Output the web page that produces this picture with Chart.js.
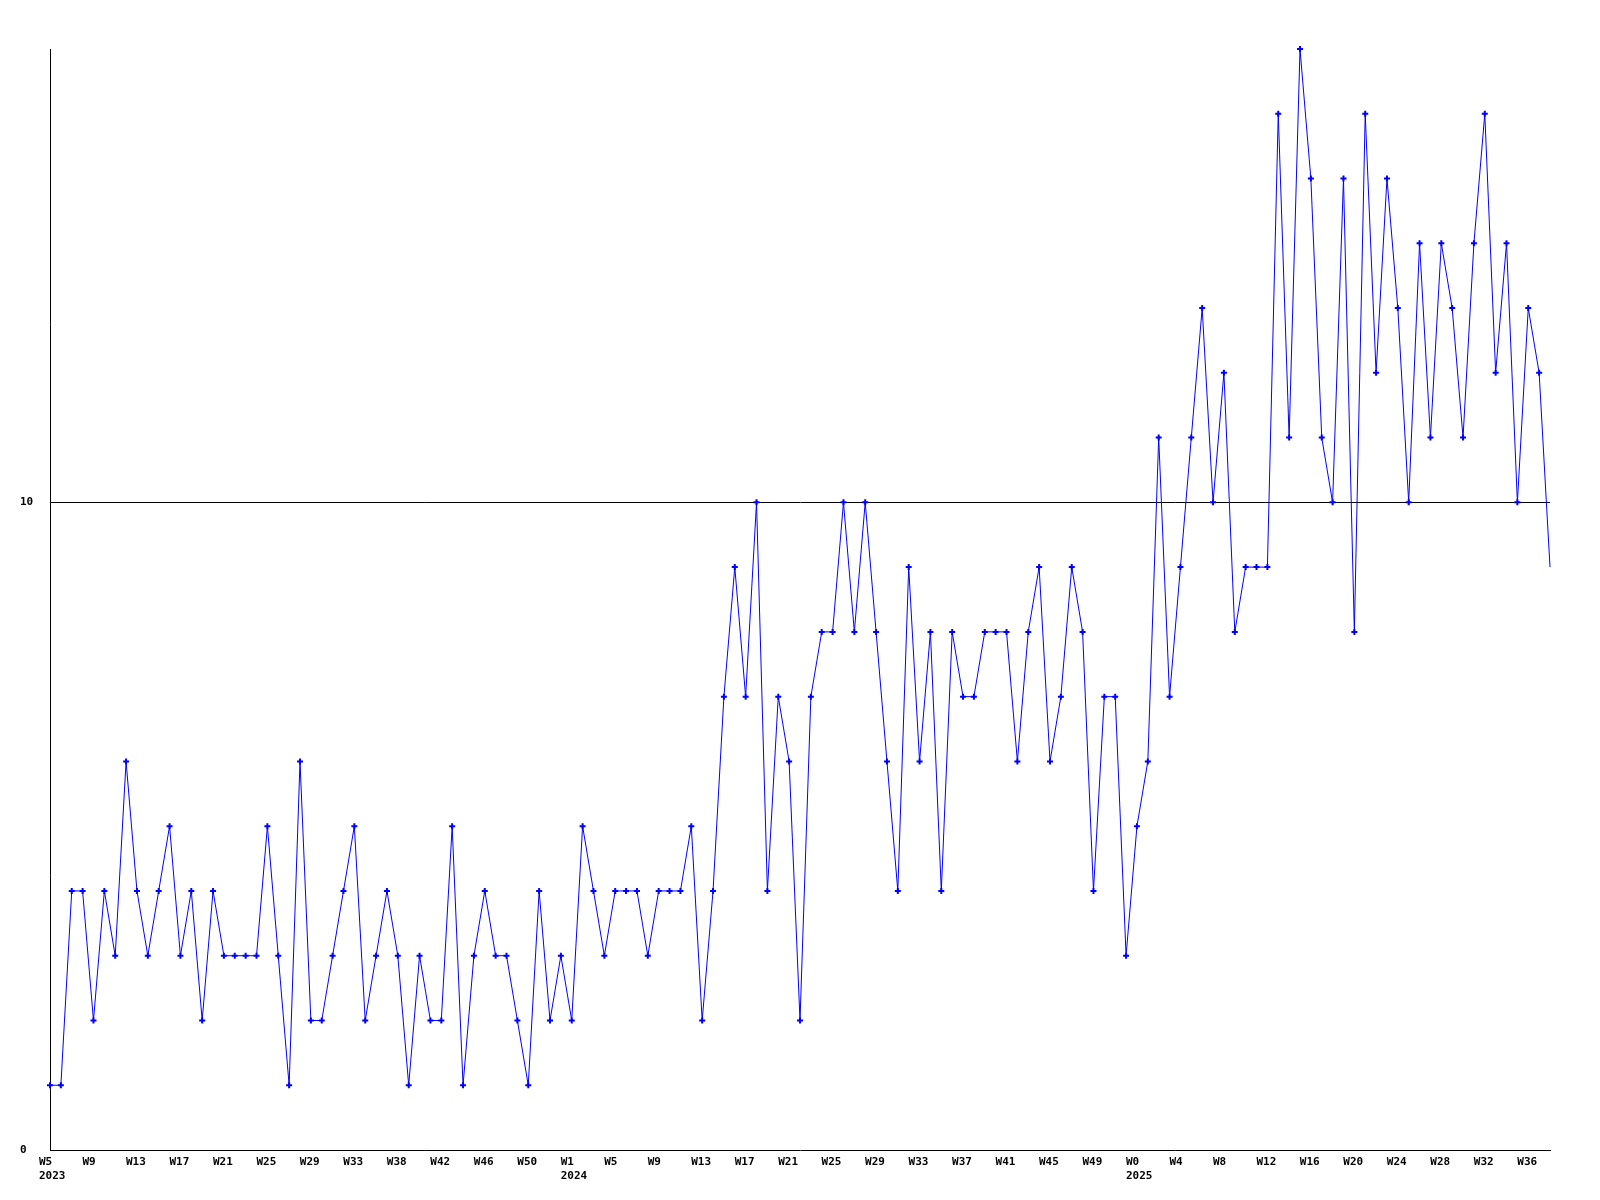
<!DOCTYPE html>
<html>
<head>
<meta charset="utf-8">
<title>Weekly count</title>
<script src="https://cdn.jsdelivr.net/npm/chart.js@4.4.1/dist/chart.umd.min.js"></script>
<style>
  html, body { margin: 0; padding: 0; background: #ffffff; }
  #weeklyChart { display: block; }
</style>
</head>
<body>
<canvas id="weeklyChart" width="1600" height="1200"></canvas>
<script>
(function(window) {
  'use strict';

  // Week numbers per year, in the order they appear on the axis
  const weeks2023 = [5, 6, 7, 8, 9, 10, 11, 12, 13, 14, 15, 16, 17, 18, 19, 20, 21, 22, 23, 24,
    25, 26, 27, 28, 29, 30, 31, 32, 33, 34, 36, 37, 38, 39, 40, 41, 42, 43, 44, 45,
    46, 47, 48, 49, 50, 51, 52];
  const weeks2024 = [0, 1, 2, 3, 4, 5, 6, 7, 8, 9, 10, 11, 12, 13, 14, 15, 16, 17, 18, 19,
    20, 21, 22, 23, 24, 25, 26, 27, 28, 29, 30, 31, 32, 33, 34, 35, 36, 37, 38, 39,
    40, 41, 42, 43, 44, 45, 46, 47, 48, 49, 50, 51, 52];
  const weeks2025 = [0, 1, 2, 3, 4, 5, 6, 7, 8, 9, 10, 11, 12, 13, 14, 15, 16, 17, 18, 19,
    20, 21, 22, 23, 24, 25, 26, 27, 28, 29, 30, 31, 32, 33, 34, 35, 36, 37, 38];

  // Weekly values, one per week above
  const values = [
    1, 1, 4, 4, 2, 4, 3, 6, 4, 3,
    4, 5, 3, 4, 2, 4, 3, 3, 3, 3,
    5, 3, 1, 6, 2, 2, 3, 4, 5, 2,
    3, 4, 3, 1, 3, 2, 2, 5, 1, 3,
    4, 3, 3, 2, 1, 4, 2, 3, 2, 5,
    4, 3, 4, 4, 4, 3, 4, 4, 4, 5,
    2, 4, 7, 9, 7, 10, 4, 7, 6, 2,
    7, 8, 8, 10, 8, 10, 8, 6, 4, 9,
    6, 8, 4, 8, 7, 7, 8, 8, 8, 6,
    8, 9, 6, 7, 9, 8, 4, 7, 7, 3,
    5, 6, 11, 7, 9, 11, 13, 10, 12, 8,
    9, 9, 9, 16, 11, 17, 15, 11, 10, 15,
    8, 16, 12, 15, 13, 10, 14, 11, 14, 13,
    11, 14, 16, 12, 14, 10, 13, 12, 9
  ];

  const yTicks = [0, 10];
  const yMax = 17;
  const labelEvery = 4;

  // Category list: "2023-W5" etc.
  const years = [];
  const weeks = [];
  [[2023, weeks2023], [2024, weeks2024], [2025, weeks2025]].forEach(function(pair) {
    pair[1].forEach(function(w) {
      years.push(pair[0]);
      weeks.push(w);
    });
  });
  const categories = weeks.map((w, i) => years[i] + '-W' + w);

  // Year goes under the first visible label of each year
  const yearShown = {};
  function xLabel(i) {
    if (i % labelEvery !== 0) return null;
    const lines = ['W' + weeks[i]];
    if (!yearShown[years[i]]) {
      yearShown[years[i]] = true;
      lines.push(String(years[i]));
    } else {
      lines.push('');
    }
    return lines;
  }
  const xTickText = categories.map((c, i) => xLabel(i));

  // last point is the running week: no marker
  const radii = values.map((v, i) => (i === values.length - 1 ? 0 : 3));

  const tickFont = { family: '"DejaVu Sans Mono", "Liberation Mono", monospace', size: 11, weight: 'bold', lineHeight: 1.2 };

  const ctx = document.getElementById('weeklyChart').getContext('2d');

  new Chart(ctx, {
    type: 'line',
    data: {
      labels: categories,
      datasets: [
        {
          label: 'Count',
          data: values,
          borderColor: '#0000ff',
          backgroundColor: '#0000ff',
          borderWidth: 1,
          pointStyle: 'cross',
          pointRadius: radii,
          pointBorderWidth: 2,
          pointBorderColor: '#0000ff',
          tension: 0,
          fill: false,
          clip: false
        }
      ]
    },
    options: {
      responsive: false,
      devicePixelRatio: 1,
      animation: false,
      layout: { padding: { left: 20, top: 49, right: 50, bottom: 0 } },
      plugins: {
        legend: { display: false },
        tooltip: { enabled: false }
      },
      scales: {
        x: {
          offset: false,
          grid: { display: false, drawTicks: false },
          border: { display: true, color: '#000000', width: 1 },
          afterFit: function(scale) { scale.height = 50; },
          ticks: {
            autoSkip: false,
            maxRotation: 0,
            minRotation: 0,
            align: 'start',
            labelOffset: -11,
            padding: 6,
            color: '#000000',
            font: tickFont,
            callback: function(value, index) { return xTickText[index]; }
          }
        },
        y: {
          min: 0,
          max: yMax,
          afterFit: function(scale) { scale.width = 30; },
          afterBuildTicks: function(scale) {
            scale.ticks = yTicks.map(v => ({ value: v }));
          },
          grid: {
            drawTicks: false,
            color: function(c) { return c.tick && c.tick.value === 10 ? '#000000' : 'rgba(0,0,0,0)'; },
            lineWidth: 1
          },
          border: { display: true, color: '#000000', width: 1 },
          ticks: {
            crossAlign: 'far',
            color: '#000000',
            font: tickFont
          }
        }
      }
    }
  });

})(window);
</script>
</body>
</html>
